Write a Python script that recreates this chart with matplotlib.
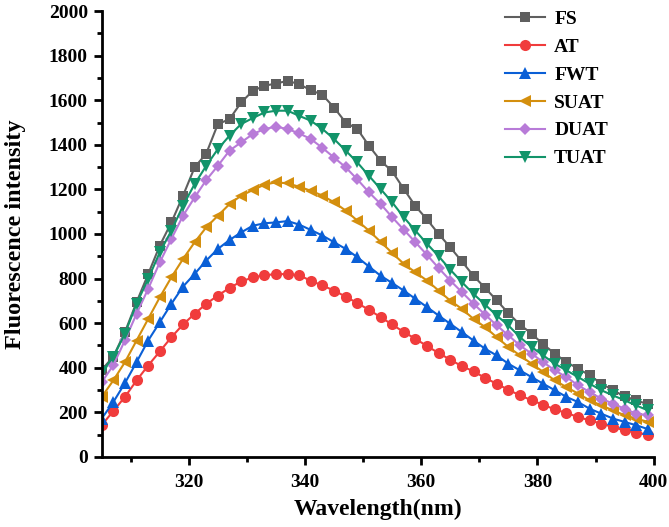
import matplotlib
matplotlib.use("Agg")
import matplotlib.pyplot as plt
import numpy as np

plt.rcParams['font.family'] = ['Liberation Serif', 'DejaVu Serif']
plt.rcParams['font.weight'] = 'bold'

wavelength = list(range(305, 400, 2))

FS = [390, 450, 560, 694, 820, 948, 1052, 1172, 1299, 1361,
      1493, 1515, 1590, 1642, 1665, 1675, 1687, 1672, 1645, 1624,
      1567, 1500, 1471, 1396, 1329, 1281, 1202, 1125, 1065, 1000,
      940, 877, 812, 758, 702, 645, 593, 553, 505, 463,
      425, 396, 366, 329, 299, 272, 254, 236]
AT = [142, 206, 269, 343, 410, 473, 537, 594, 642, 687,
      724, 758, 787, 805, 815, 820, 820, 815, 790, 769,
      746, 719, 690, 660, 627, 594, 560, 530, 497, 466,
      436, 407, 384, 354, 328, 301, 276, 254, 234, 213,
      197, 179, 164, 149, 134, 119, 109, 100]
FWT = [172, 246, 331, 425, 522, 604, 687, 764, 821, 881,
       933, 973, 1007, 1037, 1048, 1052, 1058, 1042, 1018, 993,
       963, 933, 896, 854, 813, 780, 746, 709, 672, 634,
       597, 560, 522, 485, 455, 418, 388, 358, 328, 299,
       269, 246, 216, 194, 172, 157, 142, 125]
SUAT = [269, 343, 425, 522, 619, 716, 806, 888, 963, 1030,
        1082, 1134, 1172, 1197, 1221, 1232, 1227, 1212, 1194, 1172,
        1142, 1105, 1060, 1015, 965, 915, 866, 828, 791, 746,
        701, 664, 619, 582, 537, 493, 455, 418, 381, 343,
        313, 284, 254, 231, 209, 187, 172, 157]
DUAT = [335, 411, 523, 642, 754, 873, 978, 1082, 1164, 1242,
        1306, 1374, 1411, 1448, 1471, 1481, 1471, 1451, 1426, 1386,
        1343, 1299, 1245, 1187, 1135, 1075, 1019, 963, 906, 847,
        791, 739, 687, 638, 590, 545, 500, 463, 425, 388,
        358, 321, 291, 261, 239, 216, 194, 187]
TUAT = [381, 448, 553, 687, 799, 918, 1015, 1127, 1224, 1306,
        1381, 1441, 1493, 1520, 1545, 1553, 1553, 1530, 1508, 1471,
        1426, 1374, 1321, 1261, 1202, 1142, 1075, 1015, 956, 900,
        840, 784, 731, 683, 634, 590, 537, 493, 455, 418,
        388, 358, 328, 299, 276, 254, 231, 209]

series_names = ['FS', 'AT', 'FWT', 'SUAT', 'DUAT', 'TUAT']
series_values = [FS, AT, FWT, SUAT, DUAT, TUAT]
colors = ['#5f5f5f', '#f03c3c', '#0a5fd6', '#d48f0e', '#b87bd8', '#12946a']
markers = ['s', 'o', '^', '<', 'D', 'v']
msizes = [7.5, 8, 8.5, 8.5, 6.5, 8.5]

fig = plt.figure(figsize=(6.69, 5.27), dpi=100)
ax = fig.add_axes([0.152, 0.133, 0.825, 0.846])

for name, vals, c, m, ms in zip(series_names, series_values, colors, markers, msizes):
    ax.plot(wavelength, vals, color=c, marker=m, markersize=ms, linewidth=1.5,
            markeredgewidth=0, label=name, clip_on=True)

ax.set_xlim(305, 400)
ax.set_ylim(0, 2000)
ax.set_xticks([320, 340, 360, 380, 400])
ax.set_xticks(np.arange(310, 400, 20), minor=True)
ax.set_yticks(np.arange(0, 2001, 200))
ax.set_yticks(np.arange(100, 2000, 200), minor=True)

for s in ['top', 'right']:
    ax.spines[s].set_visible(False)
for s in ['left', 'bottom']:
    ax.spines[s].set_linewidth(2)

ax.tick_params(axis='both', which='major', direction='out', length=6, width=2,
               labelsize=14, pad=4)
ax.tick_params(axis='x', which='major', pad=6)
ax.tick_params(axis='both', which='minor', direction='out', length=3.5, width=2)
for lab in ax.get_xticklabels() + ax.get_yticklabels():
    lab.set_fontweight('bold')

ax.set_xlabel('Wavelength(nm)', fontsize=17, fontweight='bold', labelpad=6)
ax.set_ylabel('Fluorescence intensity', fontsize=17.5, fontweight='bold', labelpad=16)

leg = ax.legend(loc='upper left', frameon=False, fontsize=14,
                handlelength=2.1, handletextpad=0.45, labelspacing=0.53,
                borderaxespad=0.0, borderpad=0.0,
                bbox_to_anchor=(0.73, 1.002))
for t in leg.get_texts():
    t.set_fontweight('bold')

fig.savefig('out.png', dpi=100)
